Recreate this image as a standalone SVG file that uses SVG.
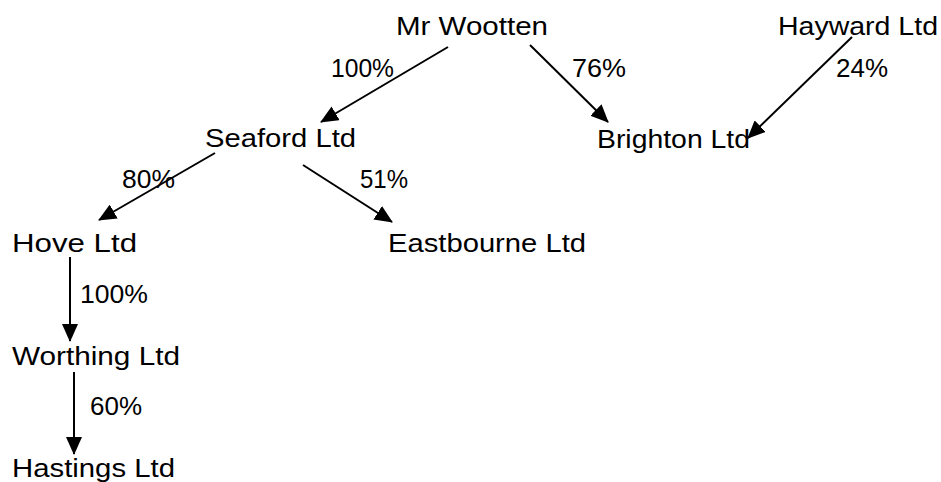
<svg xmlns="http://www.w3.org/2000/svg" width="941" height="482" viewBox="0 0 941 482">
<style>
text{font-family:"Comic Sans MS","Liberation Sans",sans-serif;font-size:25px;fill:#000}
.c line{stroke:#000;stroke-width:2;fill:none;marker-end:url(#ah)}
</style>
<defs>
<marker id="ah" markerWidth="9" markerHeight="8" refX="8.5" refY="4" orient="auto" markerUnits="strokeWidth">
<path d="M0,0 L9,4 L0,8 Z" fill="#000"/>
</marker>
</defs>
<rect width="941" height="482" fill="#fff"/>
<g class="c" id="connectors">
<line x1="448" y1="47" x2="321" y2="122"/>
<line x1="530" y1="45" x2="608" y2="122"/>
<line x1="852" y1="37" x2="748" y2="138"/>
<line x1="215" y1="153" x2="99" y2="220"/>
<line x1="303" y1="165" x2="392" y2="222"/>
<line x1="70" y1="257" x2="70" y2="341"/>
<line x1="74" y1="372" x2="74" y2="454"/>
</g>
<g id="labels">
<text x="331" y="77" textLength="63" lengthAdjust="spacingAndGlyphs">100%</text>
<text x="572" y="77" textLength="54" lengthAdjust="spacingAndGlyphs">76%</text>
<text x="836" y="77" textLength="52" lengthAdjust="spacingAndGlyphs">24%</text>
<text x="122" y="188" textLength="53" lengthAdjust="spacingAndGlyphs">80%</text>
<text x="360" y="188" textLength="48" lengthAdjust="spacingAndGlyphs">51%</text>
<text x="80" y="303" textLength="68" lengthAdjust="spacingAndGlyphs">100%</text>
<text x="90" y="415" textLength="52" lengthAdjust="spacingAndGlyphs">60%</text>
</g>
<g id="mr-wootten"><text x="396" y="35" textLength="152" lengthAdjust="spacingAndGlyphs">Mr Wootten</text></g>
<g id="hayward"><text x="778" y="35" textLength="160" lengthAdjust="spacingAndGlyphs">Hayward Ltd</text></g>
<g id="seaford"><text x="205" y="147" textLength="151" lengthAdjust="spacingAndGlyphs">Seaford Ltd</text></g>
<g id="brighton"><text x="597" y="148" textLength="153" lengthAdjust="spacingAndGlyphs">Brighton Ltd</text></g>
<g id="hove"><text x="12" y="252" textLength="125" lengthAdjust="spacingAndGlyphs">Hove Ltd</text></g>
<g id="eastbourne"><text x="388" y="252" textLength="198" lengthAdjust="spacingAndGlyphs">Eastbourne Ltd</text></g>
<g id="worthing"><text x="12" y="365" textLength="168" lengthAdjust="spacingAndGlyphs">Worthing Ltd</text></g>
<g id="hastings"><text x="12" y="477" textLength="163" lengthAdjust="spacingAndGlyphs">Hastings Ltd</text></g>
</svg>
